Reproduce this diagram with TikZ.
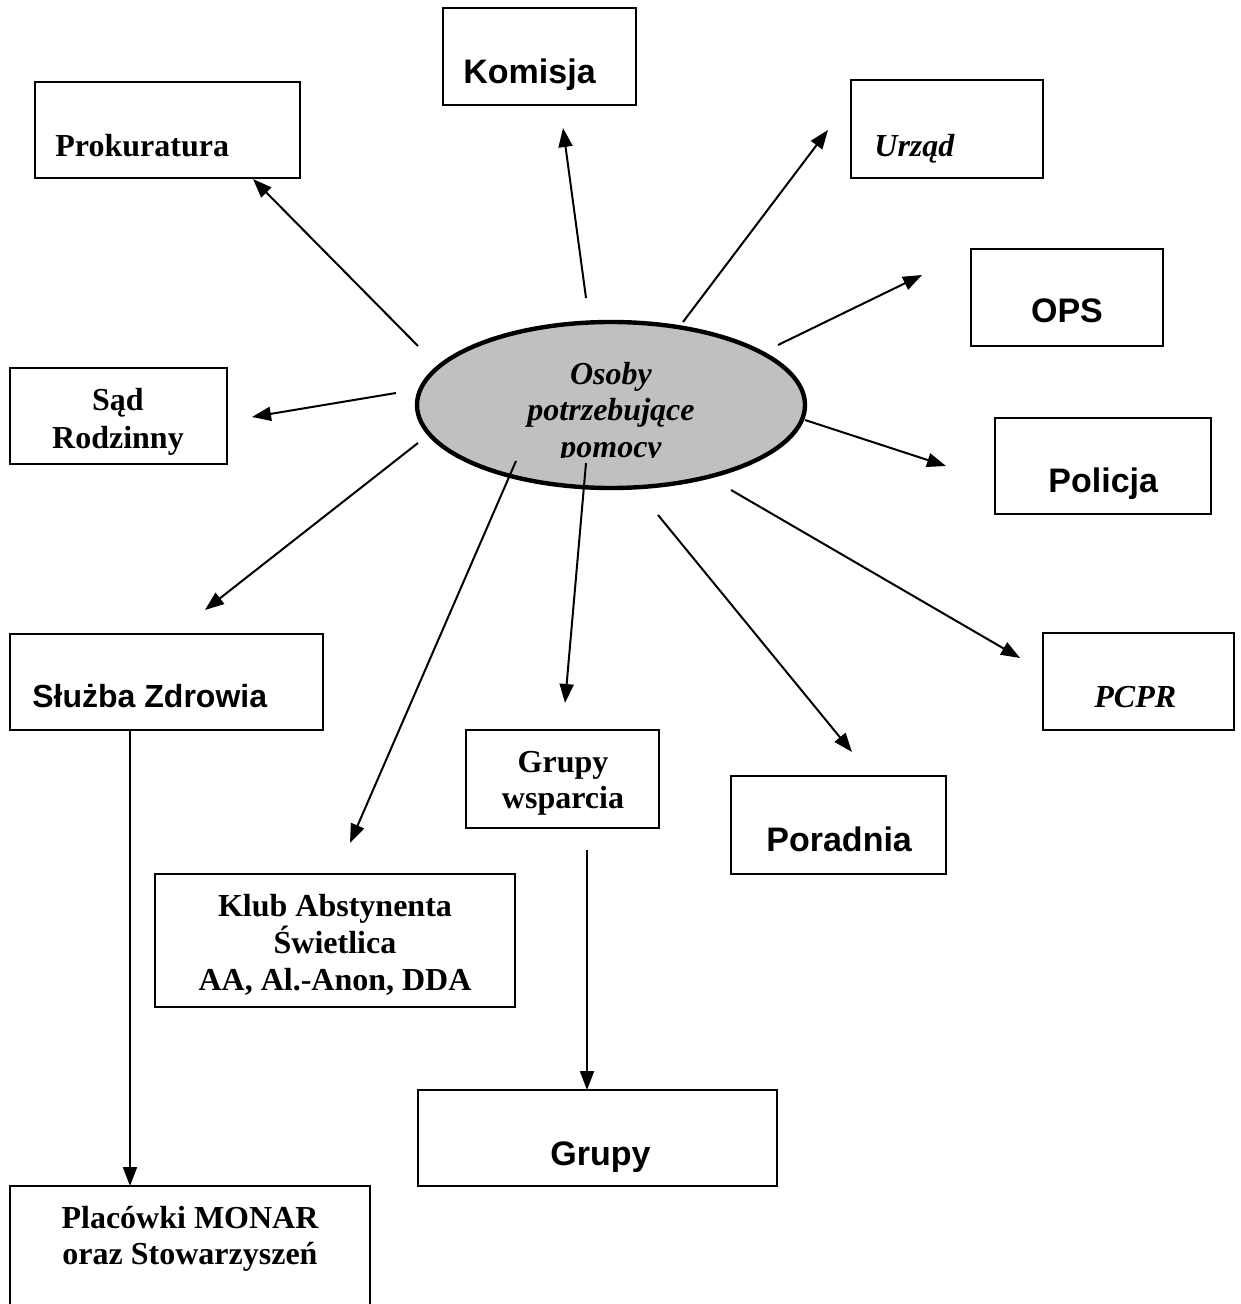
\documentclass[tikz,border=0pt]{standalone}
\usepackage{fontspec}
\setmainfont{Liberation Serif}
\setsansfont{Liberation Sans}
\usetikzlibrary{arrows.meta}
\tikzset{
  box/.style={draw, line width=1pt, inner sep=0pt, fill=none},
  arr/.style={line width=1pt, -{Triangle[length=9.5pt,width=7pt]}},
  sertext/.style={inner sep=0pt, font=\fontsize{16pt}{18.5pt}\selectfont\bfseries, align=center},
  sanstext/.style={inner sep=0pt, font=\fontsize{17pt}{20pt}\selectfont\sffamily\bfseries},
  itext/.style={inner sep=0pt, font=\fontsize{16pt}{18pt}\selectfont\bfseries\itshape, align=center},
}
\begin{document}
\begin{tikzpicture}[x=0.5pt,y=-0.5pt]
\clip (0,0) rectangle (1240,1304);
\useasboundingbox (0,0) rectangle (1240,1304);
\fill[white] (0,0) rectangle (1240,1304);

% boxes
\node[box, minimum width=96.5pt, minimum height=48.5pt] (kom) at (539.5,56.5) {};
\node[sanstext, anchor=base west] (komt) at (463,84) {Komisja};

\node[box, minimum width=132.5pt, minimum height=48pt] (pro) at (167.5,130) {};
\node[sertext, anchor=base west] (prot) at (55,157) {Prokuratura};

\node[box, minimum width=96pt, minimum height=49pt] (urz) at (947,129) {};
\node[itext, anchor=base west] (urzt) at (874,157) {Urząd};

\node[box, minimum width=96pt, minimum height=48.5pt] (ops) at (1067,297.5) {};
\node[sanstext, anchor=base] (opst) at (1067,323) {OPS};

\node[box, minimum width=108pt, minimum height=48pt] (pol) at (1103,466) {};
\node[sanstext, anchor=base west] (polt) at (1048,492) {Policja};

\node[box, minimum width=108.5pt, minimum height=48pt] (sad) at (118.5,416) {};
\node[sertext, anchor=base] (sadt1) at (118,410) {Sąd};
\node[sertext, anchor=base] (sadt2) at (118,448) {Rodzinny};

\node[box, minimum width=156.5pt, minimum height=48pt] (slz) at (166.5,682) {};
\node[sanstext, anchor=base west, font=\fontsize{16pt}{19pt}\selectfont\sffamily\bfseries] (slzt) at (32,707) {Służba Zdrowia};

\node[box, minimum width=95.5pt, minimum height=48.5pt] (pcpr) at (1138.5,681.5) {};
\node[itext, anchor=base west] (pcprt) at (1094,707) {PCPR};

\node[box, minimum width=96.5pt, minimum height=49pt] (gw) at (562.5,779) {};
\node[sertext, anchor=base] (gwt1) at (563,772) {Grupy};
\node[sertext, anchor=base] (gwt2) at (563,808) {wsparcia};

\node[box, minimum width=107.5pt, minimum height=49pt] (por) at (838.5,825) {};
\node[sanstext, anchor=base west] (port) at (766,851) {Poradnia};

\node[box, minimum width=180pt, minimum height=66.5pt] (klub) at (335,940.5) {};
\node[sertext, anchor=base] (klubt1) at (335,916) {Klub Abstynenta};
\node[sertext, anchor=base] (klubt2) at (335,953) {Świetlica};
\node[sertext, anchor=base] (klubt3) at (335,990) {AA, Al.-Anon, DDA};

\node[box, minimum width=179.5pt, minimum height=48pt] (gr) at (597.5,1138) {};
\node[sanstext, anchor=base west] (grt) at (550,1165) {Grupy};

\node[box, minimum width=180pt, minimum height=80pt] (plac) at (190,1266) {};
\node[sertext, anchor=base] (plact1) at (190,1228) {Placówki MONAR};
\node[sertext, anchor=base] (plact2) at (190,1264) {oraz Stowarzyszeń};

% central ellipse
\draw[line width=2.2pt, fill={rgb,255:red,192;green,192;blue,192}] (611,405) ellipse [x radius=194, y radius=83];
\coordinate (ell) at (611,405);
\begin{scope}
\clip (420,330) rectangle (800,457);
\node[itext, anchor=base] (ost1) at (611,385) {Osoby};
\node[itext, anchor=base] (ost2) at (611,421) {potrzebujące};
\node[itext, anchor=base] (ost3) at (611,457) {pomocy};
\end{scope}

% arrow end points
\coordinate (s1) at (418,346);  \coordinate (t1) at (253,179);
\coordinate (s2) at (586,298);  \coordinate (t2) at (563,128);
\coordinate (s3) at (683,322);  \coordinate (t3) at (828,130);
\coordinate (s4) at (778,345);  \coordinate (t4) at (922,275);
\coordinate (s5) at (805,420);  \coordinate (t5) at (946,466);
\coordinate (s6) at (731,490);  \coordinate (t6) at (1020,658);
\coordinate (s7) at (658,515);  \coordinate (t7) at (852,752);
\coordinate (s8) at (586,463);  \coordinate (t8) at (565,703);
\coordinate (s9) at (516,461);  \coordinate (t9) at (350,843);
\coordinate (s10) at (418,443); \coordinate (t10) at (205,610);
\coordinate (s11) at (396,393); \coordinate (t11) at (252,417);
\coordinate (s12) at (130,730); \coordinate (t12) at (130,1186);
\coordinate (s13) at (587,850); \coordinate (t13) at (587,1090);

\foreach \i in {1,...,13} { \draw[arr] (s\i) -- (t\i); }
\end{tikzpicture}
\end{document}
